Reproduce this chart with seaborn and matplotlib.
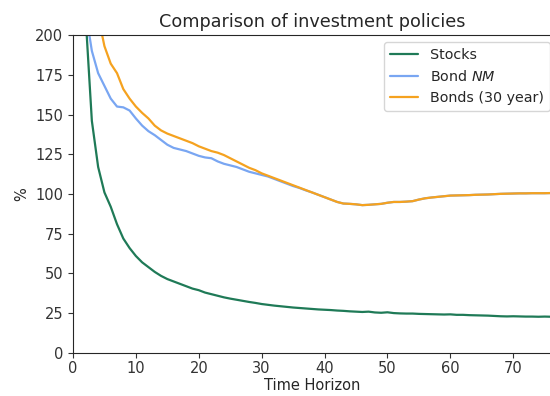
import matplotlib
matplotlib.use("Agg")
import matplotlib.pyplot as plt
import seaborn as sns
import pandas as pd

horizon = list(range(1, 77))

stocks = [330, 212, 146, 117, 101, 92, 81, 72, 66, 61,
          57, 54, 51, 48.5, 46.5, 45, 43.5, 42, 40.5, 39.5,
          38, 37, 36, 35, 34.2, 33.5, 32.8, 32.1, 31.5, 30.8,
          30.3, 29.8, 29.4, 29, 28.6, 28.3, 28, 27.7, 27.4, 27.2,
          27, 26.7, 26.5, 26.2, 26, 25.8, 26, 25.5, 25.3, 25.6,
          25.1, 24.9, 24.8, 24.8, 24.6, 24.5, 24.4, 24.3, 24.2, 24.3,
          24.0, 24.0, 23.8, 23.7, 23.6, 23.5, 23.3, 23.1, 23.0, 23.1,
          23.0, 22.9, 22.9, 22.8, 22.9, 22.8]

bonds_30 = [330, 270, 235, 212, 193, 182, 176, 166, 160, 155,
            151, 147.5, 143, 140, 138, 136.5, 135, 133.5, 132, 130,
            128.5, 127, 126, 124.5, 122.5, 120.5, 118.5, 116.5, 115, 113,
            111.5, 110, 108.5, 107, 105.5, 104, 102.5, 101, 99.5, 98,
            96.5, 95, 94, 93.8, 93.5, 93, 93.2, 93.5, 93.8, 94.5,
            95, 95, 95.2, 95.5, 96.5, 97.3, 97.8, 98.2, 98.6, 99,
            99.1, 99.2, 99.3, 99.5, 99.6, 99.7, 99.9, 100.1, 100.2, 100.3,
            100.4, 100.4, 100.5, 100.5, 100.5, 100.6]

bond_nm = [290, 215, 190, 176, 168, 160, 155, 154.5, 152.5, 147.5,
           143, 139.5, 137, 134, 131, 129, 128, 127, 125.5, 124,
           123, 122.5, 120.5, 119, 118, 117, 115.5, 114, 113, 112,
           111, 109.5, 108, 106.5, 105, 103.8, 102.3, 101, 99.5, 98,
           96.5, 95, 94, 93.8, 93.5, 93, 93.2, 93.5, 93.8, 94.5,
           95, 95, 95.2, 95.5, 96.5, 97.3, 97.8, 98.2, 98.6, 99,
           99.1, 99.2, 99.3, 99.5, 99.6, 99.7, 99.9, 100.1, 100.2, 100.3,
           100.4, 100.4, 100.5, 100.5, 100.5, 100.6]

labels = ["Stocks", "Bond $NM$", "Bonds (30 year)"]
colors = ["#1f7a57", "#79a6f2", "#f5a21f"]

df = pd.DataFrame({
    "Time Horizon": horizon * 3,
    "value": stocks + bond_nm + bonds_30,
    "policy": [labels[0]] * len(horizon) + [labels[1]] * len(horizon) + [labels[2]] * len(horizon),
})

sns.set_style("ticks")
plt.rcParams["font.family"] = ["DejaVu Sans"]

fig = plt.figure(figsize=(5.5, 3.96), dpi=100)
ax = fig.add_axes([0.1327, 0.1086, 0.8691, 0.803])

sns.lineplot(data=df, x="Time Horizon", y="value", hue="policy",
             palette=dict(zip(labels, colors)), linewidth=1.6, ax=ax)

ax.set_xlim(0, 76)
ax.set_ylim(0, 200)
ax.set_yticks(range(0, 201, 25))
ax.set_xticks(range(0, 71, 10))
ax.tick_params(labelsize=10.5, colors="#333333", length=3.5)
ax.tick_params(axis="x", pad=2.5)
ax.set_title("Comparison of investment policies", fontsize=12.7)
ax.set_xlabel("Time Horizon", fontsize=10.5, labelpad=1.5)
ax.set_ylabel("%", fontsize=10.5)
ax.legend(loc="upper right", bbox_to_anchor=(1.012, 1.0), fontsize=10.3,
          title=None, frameon=True)

fig.savefig("out.png", dpi=100)
